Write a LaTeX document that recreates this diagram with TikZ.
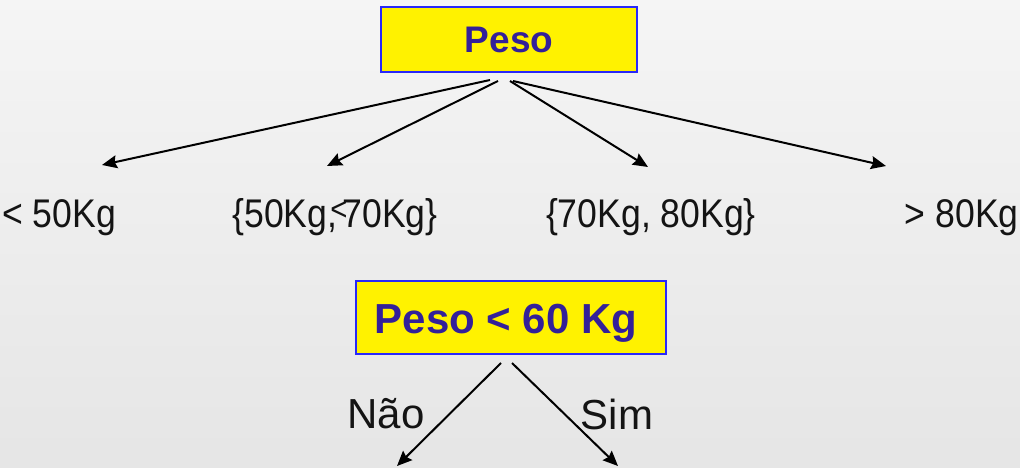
\documentclass[tikz,border=0pt]{standalone}
\usepackage{fontspec}
\setmainfont{Liberation Sans}
\newfontfamily\narrowfont[FakeStretch=0.89]{Liberation Sans}
\usetikzlibrary{arrows.meta}

\definecolor{pesotext}{RGB}{51,32,153}
\definecolor{pesoframe}{RGB}{40,40,250}

\tikzset{
  testbox/.style={draw=pesoframe, line width=2pt, fill=yellow, text=pesotext, inner sep=0pt, text depth=0pt},
  faixa/.style={inner sep=0pt, text height=30pt, text depth=9pt, text=black!92, font=\narrowfont\fontsize{40}{44}\selectfont},
  ramo/.style={inner sep=0pt, text=black!92, font=\fontsize{42}{46}\selectfont},
  seta/.style={line width=2pt, -{Stealth[length=15pt,width=13pt,inset=2pt]}}
}

\begin{document}
\begin{tikzpicture}[x=1pt, y=-1pt]
\shade[top color=white!96!black, bottom color=white!90!black] (0,0) rectangle (1020,468);
\useasboundingbox (0,0) rectangle (1020,468);

% Define nodes
\node[testbox, minimum width=256pt, minimum height=65pt, text height=26pt, font=\bfseries\fontsize{37}{40}\selectfont] (peso) at (509,39.5) {Peso};
\node[faixa, anchor=base west] (lt50) at (2,227) {< 50Kg};
\node[faixa, anchor=base] (de50) at (335,227) {\{50Kg,\kern-7pt\raisebox{7pt}{\fontsize{33}{36}\selectfont<}\kern-5pt70Kg\}};
\node[faixa, anchor=base] (de70) at (651,227) {\{70Kg, 80Kg\}};
\node[faixa, anchor=base east] (gt80) at (1019,227) {> 80Kg};

\node[testbox, minimum width=310pt, minimum height=73pt, text height=31pt, font=\bfseries\fontsize{42}{46}\selectfont] (peso60) at (511,317.5) {Peso < 60 Kg\hspace*{10pt}};
\node[ramo] (nao) at (386,414) {Não};
\node[ramo] (sim) at (617,414) {Sim};

% Arrow ends
\coordinate (e1) at (102,165);
\coordinate (e2) at (327,166);
\coordinate (e3) at (648,167);
\coordinate (e4) at (886,166);
\coordinate (e5) at (397,466);
\coordinate (e6) at (618,466);

% Connect the nodes
\draw[seta] ([xshift=-19pt,yshift=-7pt]peso.south) -- (e1);
\draw[seta] ([xshift=-11pt,yshift=-8pt]peso.south) -- (e2);
\draw[seta] ([xshift=1pt,yshift=-8pt]peso.south) -- (e3);
\draw[seta] ([xshift=4pt,yshift=-8pt]peso.south) -- (e4);
\draw[seta] ([xshift=-10pt,yshift=-8pt]peso60.south) -- (e5);
\draw[seta] ([xshift=1pt,yshift=-8pt]peso60.south) -- (e6);

\end{tikzpicture}
\end{document}
